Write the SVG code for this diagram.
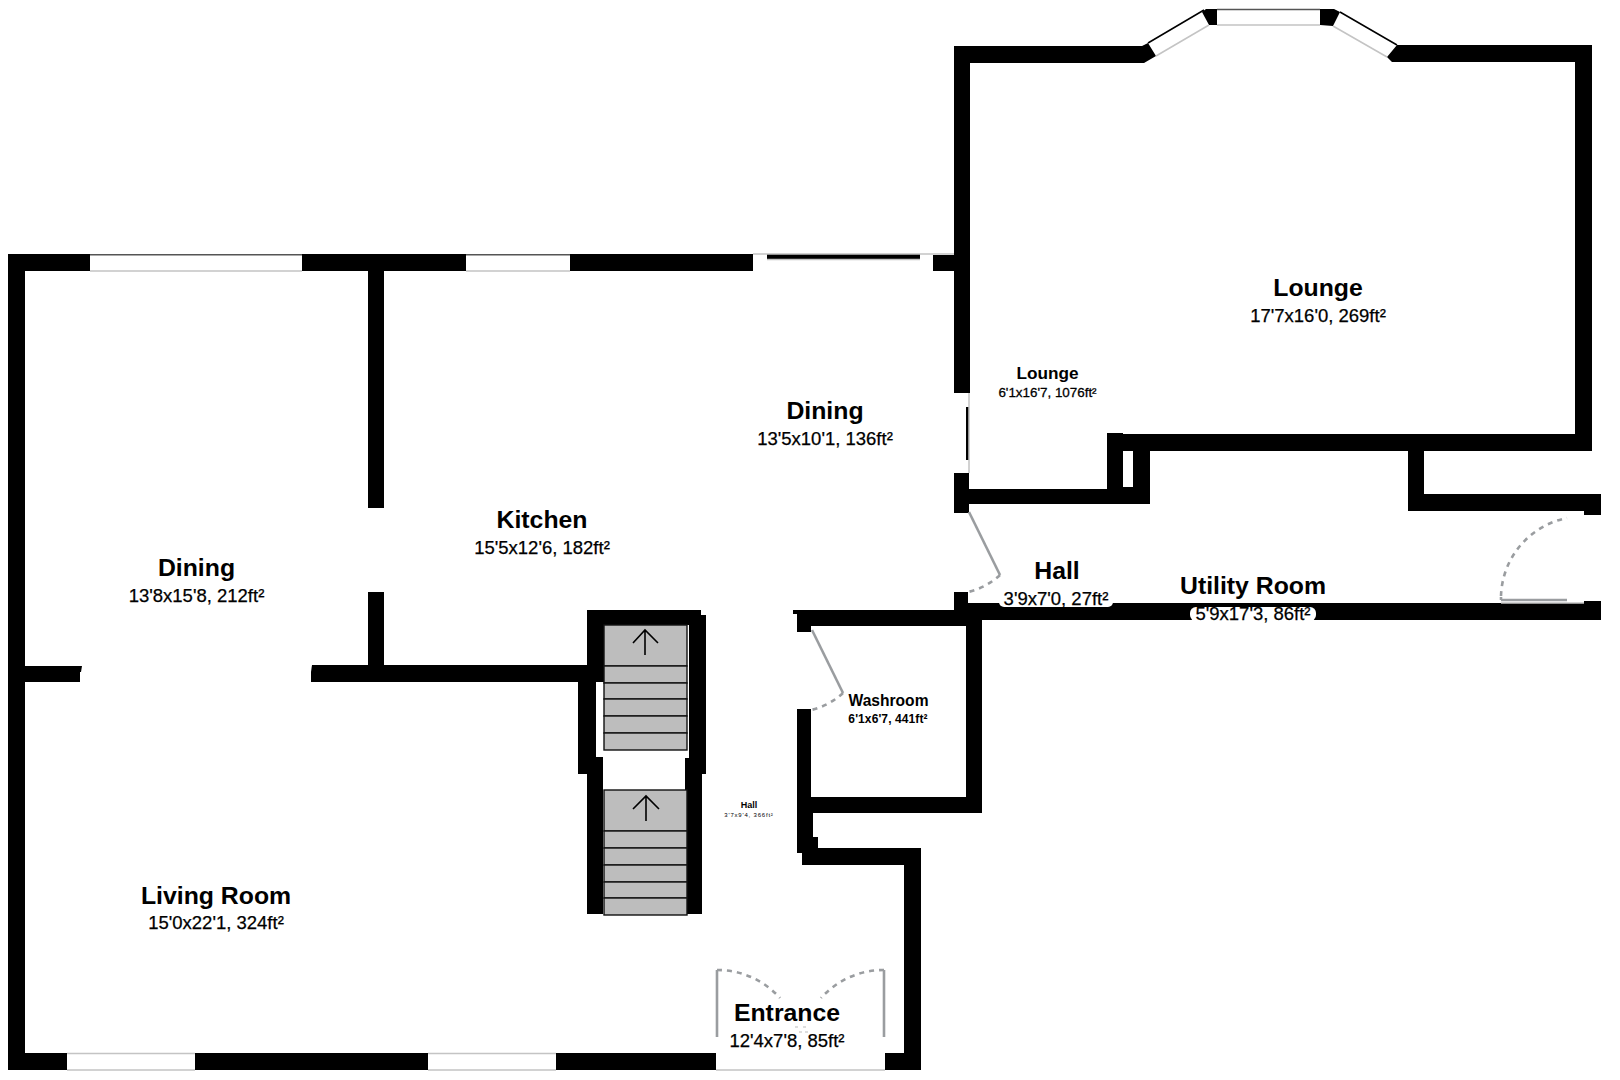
<svg xmlns="http://www.w3.org/2000/svg" width="1620" height="1080" viewBox="0 0 1620 1080">
<style>
text{font-family:"Liberation Sans",Arial,sans-serif;text-anchor:middle;fill:#000}
.t{font-size:24.8px;font-weight:bold}
.s{font-size:18.5px;stroke:#000;stroke-width:.25px}
.w{fill:#000;stroke:none}
.gl{fill:#fff;stroke:none}
.in{stroke:#c4c4c4;stroke-width:1.5;fill:none}
.out{stroke:#555;stroke-width:1.5;fill:none}
.door{stroke:#9a9da0;stroke-width:2.6;fill:none}
.arc{stroke:#9a9da0;stroke-width:2.6;fill:none;stroke-dasharray:5 5}
.tread{fill:#bdbdbd;stroke:#111;stroke-width:1.4}
.up{fill:none;stroke:#000;stroke-width:1.6}
</style>
<rect width="1620" height="1080" fill="#fff"/>
<g id="walls" class="w">
<rect x="8" y="254" width="82" height="17"/>
<rect x="302" y="254" width="164" height="17"/>
<rect x="570" y="254" width="183" height="17"/>
<rect x="767" y="254" width="153" height="5"/>
<rect x="933" y="255" width="21" height="16"/>
<rect x="8" y="254" width="17" height="816"/>
<rect x="8" y="1053" width="708" height="17"/>
<rect x="885" y="1053" width="36" height="17"/>
<rect x="904" y="848" width="17" height="222"/>
<path d="M25 666H82L81 672H80V682H25Z"/>
<rect x="368" y="254" width="16" height="254"/>
<rect x="368" y="592" width="16" height="90"/>
<path d="M311 672L312 665H604V682H311Z"/>
<path d="M587 610H701V615H706V774H689V625H604V682H596V774H578V682H587Z"/>
<rect x="587" y="757" width="16" height="157"/>
<rect x="685" y="758" width="17" height="156"/>
<path d="M793 610H954V592H968V603H1601V620H982V813H813V837H818V848H921V865H802V853H797V632H797V614H793Z M811 626V632H797V709H811V797H966V626Z" fill-rule="evenodd"/>
<path d="M954 46H1142L1148 43L1156 56L1144 63H970V393H954Z"/>
<rect x="966" y="407" width="3" height="53"/>
<rect x="954" y="473" width="15" height="40"/>
<path d="M969 489H1107V433H1123V434H1575V62H1392L1387 57L1397 45H1592V451H1424V494H1601V515H1584V511H1408V451H1150V504H969Z M1123 451V487H1133V451Z" fill-rule="evenodd"/>
<path d="M1202 12L1206 9H1217V25H1209Z"/>
<path d="M1320 9H1334L1340 12L1333 26L1320 25Z"/>
<rect x="1584" y="601" width="17" height="4"/>
</g>
<g id="windows">
<path class="out" d="M90 254.7H302M466 254.7H570M1217 9.5H1320"/>
<path class="in" d="M753 254H954M767 259.5H920M90 271H302M466 271H570M1217 25H1320M716 1070H885M969 393V473M1156 56L1209 25M1333 26L1387 57M1501 603H1584"/>
<path d="M1148 43L1204 10M1340 12L1397 45" stroke="#000" stroke-width="1.5" fill="none"/>
<rect class="gl" x="67" y="1054" width="128" height="16"/>
<rect class="gl" x="428" y="1054" width="128" height="16"/>
<path class="in" d="M67 1053.5H195M67 1070H195M428 1053.5H556M428 1070H556"/>
</g>
<g id="doors">
<path class="door" d="M969 512L1000 575"/>
<path class="arc" d="M1000 575A70 70 0 0 1 968 592"/>
<path class="door" d="M1501 600H1567M1501 600V597"/>
<path class="arc" d="M1501 596A82 82 0 0 1 1567 518"/>
<path class="door" d="M812 630L843 693"/>
<path class="arc" d="M843 693A70 70 0 0 1 811 710"/>
<path class="door" d="M717 1037V970M884 1037V970"/>
<path class="arc" d="M717 970A84 84 0 0 1 780 998M884 970A84 84 0 0 0 821 998"/>
<path d="M795 1027h3M803 1027h3M799 1032h3M805 1032h3" stroke="#bbb" stroke-width="1" fill="none"/>
</g>
<g id="stairs">
<g id="stair-upper">
<rect class="tread" x="604" y="625" width="83" height="41"/>
<rect class="tread" x="604" y="666" width="83" height="17"/>
<rect class="tread" x="604" y="683" width="83" height="16"/>
<rect class="tread" x="604" y="699" width="83" height="17"/>
<rect class="tread" x="604" y="716" width="83" height="17"/>
<rect class="tread" x="604" y="733" width="83" height="17"/>
<path class="up" d="M645 655V630M633 643L645 630L658 643"/>
</g>
<g id="stair-lower">
<rect class="tread" x="604" y="790" width="83" height="41"/>
<rect class="tread" x="604" y="831" width="83" height="17"/>
<rect class="tread" x="604" y="848" width="83" height="17"/>
<rect class="tread" x="604" y="865" width="83" height="17"/>
<rect class="tread" x="604" y="882" width="83" height="16"/>
<rect class="tread" x="604" y="898" width="83" height="17"/>
<path class="up" d="M646 821V796M633 809L646 796L659 809"/>
</g>
</g>
<g id="label-boxes" fill="#fff">
<rect x="999" y="596" width="114" height="11" rx="5"/>
<rect x="1190" y="607" width="126" height="14" rx="6"/>
</g>
<g id="labels">
<g id="room-lounge"><text class="t" x="1318" y="296">Lounge</text><text class="s" x="1318" y="322">17'7x16'0, 269ft²</text></g>
<g id="room-lounge-2"><text x="1047.5" y="379" font-size="17.2" font-weight="bold">Lounge</text><text x="1047.5" y="397" font-size="13.4" stroke="#000" stroke-width=".3">6'1x16'7, 1076ft²</text></g>
<g id="room-dining-1"><text class="t" x="825" y="418.5">Dining</text><text class="s" x="825" y="444.5">13'5x10'1, 136ft²</text></g>
<g id="room-kitchen"><text class="t" x="542" y="527.5">Kitchen</text><text class="s" x="542" y="554">15'5x12'6, 182ft²</text></g>
<g id="room-dining-2"><text class="t" x="196.5" y="576">Dining</text><text class="s" x="196.5" y="602">13'8x15'8, 212ft²</text></g>
<g id="room-living"><text class="t" x="216" y="903.5">Living Room</text><text class="s" x="216" y="929">15'0x22'1, 324ft²</text></g>
<g id="room-hall-1"><text class="t" x="1057" y="579">Hall</text><text class="s" x="1056" y="605">3'9x7'0, 27ft²</text></g>
<g id="room-utility"><text class="t" x="1253" y="594">Utility Room</text><text class="s" x="1253" y="620">5'9x17'3, 86ft²</text></g>
<g id="room-washroom"><text x="888.5" y="706" font-size="15.6" font-weight="bold">Washroom</text><text x="888" y="723" font-size="12" font-weight="bold" letter-spacing=".1">6'1x6'7, 441ft²</text></g>
<g id="room-hall-2"><text x="749" y="807.5" font-size="9" font-weight="bold">Hall</text><text x="749" y="817" font-size="6" letter-spacing=".8">3'7x9'4, 366ft²</text></g>
<g id="room-entrance"><text class="t" x="787" y="1020.5">Entrance</text><text class="s" x="787" y="1046.5">12'4x7'8, 85ft²</text></g>
</g>
</svg>
